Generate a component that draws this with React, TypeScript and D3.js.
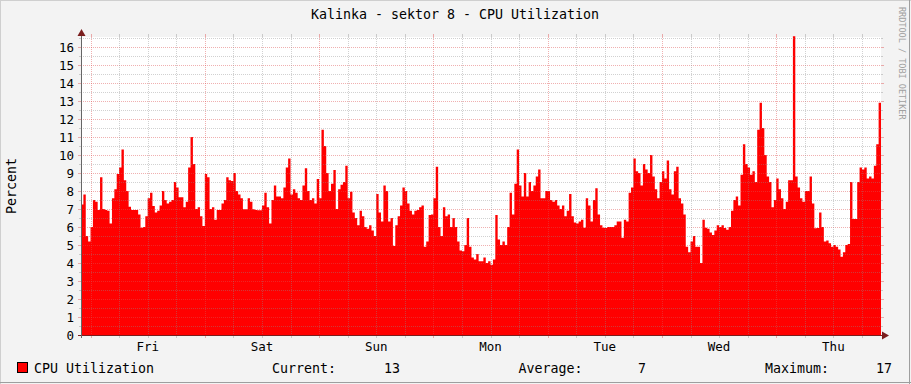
import React from "react";
import * as d3 from "d3";

const title = "Kalinka - sektor 8 - CPU Utilization";
const yAxisLabel = "Percent";
const watermark = "RRDTOOL / TOBI OETIKER";
const dayLabels = ["Fri", "Sat", "Sun", "Mon", "Tue", "Wed", "Thu"];
const yTickValues = [0, 1, 2, 3, 4, 5, 6, 7, 8, 9, 10, 11, 12, 13, 14, 15, 16];
const seriesName = "CPU Utilization";
const statLabels = ["Current:", "Average:", "Maximum:"];
const statValues = ["13", "7", "17"];

// 30-minute samples, starting Thu 22:00, spanning 7 days
const cpu = [
  7.25, 7.8, 5.5, 5.2, 6.0, 7.5, 7.4, 6.95, 8.76, 7.0,
  6.95, 6.9, 6.2, 7.6, 8.1, 8.95, 9.3, 10.3, 8.6, 8.0,
  7.13, 6.95, 6.95, 6.95, 6.7, 5.96, 6.0, 6.6, 7.6, 7.9,
  7.17, 6.8, 6.9, 7.2, 8.0, 7.5, 7.3, 7.4, 7.5, 8.5,
  8.2, 7.65, 7.65, 7.1, 7.4, 9.3, 11.0, 9.5, 7.0, 7.1,
  6.6, 6.05, 8.95, 8.76, 7.0, 7.1, 6.4, 6.95, 6.95, 7.3,
  7.5, 8.76, 8.6, 8.55, 9.0, 8.0, 7.8, 7.6, 6.98, 6.98,
  7.6, 7.4, 6.98, 6.95, 6.93, 6.93, 7.2, 7.9, 7.1, 6.2,
  7.5, 8.3, 7.7, 7.7, 7.6, 8.2, 9.3, 9.8, 7.8, 8.1,
  7.9, 7.6, 7.5, 8.3, 9.26, 8.0, 7.5, 7.6, 7.3, 8.67,
  7.6, 11.4, 10.5, 9.0, 8.0, 8.4, 9.17, 7.0, 8.1, 8.35,
  8.5, 9.4, 7.6, 7.96, 6.8, 6.5, 6.1, 6.9, 6.6, 6.0,
  5.9, 6.1, 5.8, 5.5, 7.83, 6.8, 6.3, 8.3, 8.0, 6.3,
  6.5, 4.94, 6.1, 6.6, 7.2, 8.2, 8.0, 7.3, 6.9, 6.7,
  6.9, 6.95, 7.1, 7.2, 4.9, 5.2, 6.67, 6.7, 7.6, 9.35,
  6.0, 5.5, 7.1, 6.6, 6.7, 6.0, 6.5, 6.0, 5.2, 4.7,
  4.65, 5.0, 6.5, 4.9, 4.3, 4.2, 4.5, 4.1, 4.1, 4.3,
  4.0, 4.1, 3.9, 4.2, 6.67, 5.3, 5.0, 5.2, 5.0, 6.0,
  7.9, 6.7, 8.4, 10.3, 8.3, 7.7, 9.0, 7.7, 8.5, 8.0,
  8.3, 8.8, 9.2, 7.6, 7.6, 8.0, 8.0, 7.5, 7.4, 7.5,
  7.2, 7.0, 7.2, 6.6, 6.9, 7.83, 6.6, 6.25, 6.2, 6.3,
  6.4, 5.96, 7.6, 7.2, 6.3, 7.5, 8.15, 6.7, 6.1, 5.96,
  5.95, 6.0, 6.0, 6.0, 6.1, 6.3, 6.3, 5.4, 6.4, 6.3,
  7.9, 8.2, 9.8, 9.1, 9.0, 8.3, 9.5, 9.2, 9.0, 10.0,
  8.8, 8.1, 7.6, 8.5, 9.1, 8.7, 9.7, 8.1, 7.8, 9.1,
  9.35, 7.6, 7.3, 6.7, 4.9, 4.6, 5.2, 5.5, 4.9, 4.9,
  4.0, 6.4, 5.96, 5.9, 5.7, 5.55, 5.8, 6.1, 6.0, 6.1,
  5.95, 5.85, 6.0, 6.9, 7.5, 7.7, 7.2, 8.9, 10.6, 9.5,
  9.3, 8.9, 9.1, 8.5, 11.4, 12.9, 11.5, 10.0, 8.8, 8.5,
  7.1, 7.5, 8.7, 8.1, 7.6, 7.0, 7.4, 8.6, 8.6, 16.6,
  8.8, 8.2, 7.6, 7.4, 8.0, 8.0, 8.8, 7.3, 5.93, 5.95,
  6.8, 6.0, 5.2, 5.25, 5.1, 4.9, 5.0, 4.9, 4.75, 4.35,
  4.6, 5.0, 5.05, 8.5, 6.44, 6.44, 8.5, 9.3, 9.2, 9.3,
  8.7, 8.8, 8.7, 9.4, 10.6, 12.9,
];

const W = 911;
const H = 384;
const PL = 81, PR = 881, PT = 37, PB = 335;
const HOURS = 168;
const STEP_H = 0.5;
const FIRST_MIDNIGHT_H = 2;
const MONO = "'DejaVu Sans Mono', monospace";

export default function App() {
  const x = d3.scaleLinear().domain([0, HOURS]).range([PL, PR]);
  const y = d3.scaleLinear().domain([0, (PB - PT) / 18]).range([PB, PT]);

  const pts: [number, number][] = cpu.map((v, i) => [i * STEP_H, v]);
  pts.push([HOURS, cpu[cpu.length - 1]]);

  const area = d3
    .area<[number, number]>()
    .x((d) => x(d[0]))
    .y0(y(0))
    .y1((d) => y(d[1]))
    .curve(d3.curveStepAfter);

  const px = (v: number) => Math.round(v) + 0.5;

  const hMinor = d3.range(0.5, (PB - PT) / 18, 1);
  const vHours = d3.range(FIRST_MIDNIGHT_H, HOURS, 6);
  const minorCol = "rgba(140,140,140,0.4)";
  const majorCol = "rgba(222,80,80,0.45)";

  return (
    <svg
      width={W}
      height={H}
      style={{ position: "absolute", left: 0, top: 0, display: "block" }}
      xmlns="http://www.w3.org/2000/svg"
    >
      <rect x={0} y={0} width={W} height={H} fill="#f3f3f3" />
      <line x1={0} y1={0.5} x2={W} y2={0.5} stroke="#cfcfcf" />
      <line x1={0.5} y1={0} x2={0.5} y2={H} stroke="#cfcfcf" />
      <line x1={0} y1={H - 1.5} x2={W} y2={H - 1.5} stroke="#9e9e9e" />
      <line x1={W - 1.5} y1={0} x2={W - 1.5} y2={H} stroke="#9e9e9e" />

      <text x={455} y={19} textAnchor="middle" fontFamily={MONO} fontSize={13.3} fill="#000">
        {title}
      </text>

      <text
        transform={`translate(899,7) rotate(90)`}
        fontFamily={MONO}
        fontSize={8.5}
        fill="#a0a0a0"
      >
        {watermark}
      </text>

      <rect x={PL} y={PT} width={PR - PL} height={PB - PT} fill="#fff" />

      <path d={area(pts) || ""} fill="#ff0000" />

      {/* horizontal minor grid */}
      {hMinor.map((v) => (
        <g key={"hm" + v}>
          <line x1={PL} x2={PR} y1={px(y(v))} y2={px(y(v))} stroke={minorCol} strokeDasharray="1,1" />
          <line x1={PL - 2} x2={PL} y1={px(y(v))} y2={px(y(v))} stroke={minorCol} />
          <line x1={PR} x2={PR + 2} y1={px(y(v))} y2={px(y(v))} stroke={minorCol} />
        </g>
      ))}
      {/* horizontal major grid */}
      {yTickValues.map((v) => (
        <g key={"hM" + v}>
          {v > 0 && (
            <line x1={PL} x2={PR} y1={px(y(v))} y2={px(y(v))} stroke={majorCol} strokeDasharray="1,1" />
          )}
          <line x1={PL - 3} x2={PL} y1={px(y(v))} y2={px(y(v))} stroke={majorCol} />
          <line x1={PR} x2={PR + 3} y1={px(y(v))} y2={px(y(v))} stroke={majorCol} />
          <text
            x={74}
            y={y(v) + 4.5}
            textAnchor="end"
            fontFamily={MONO}
            fontSize={12.5}
            fill="#000"
          >
            {v}
          </text>
        </g>
      ))}
      {/* vertical grid */}
      {vHours.map((h) => {
        const major = (h - FIRST_MIDNIGHT_H) % 24 === 0;
        const c = major ? majorCol : minorCol;
        const xx = px(x(h));
        return (
          <g key={"v" + h}>
            <line x1={xx} x2={xx} y1={PT} y2={PB} stroke={c} strokeDasharray="1,1" />
            <line x1={xx} x2={xx} y1={PT - 3} y2={PT} stroke={c} />
            <line x1={xx} x2={xx} y1={PB} y2={PB + 3} stroke={c} />
          </g>
        );
      })}
      {dayLabels.map((d, i) => (
        <text
          key={d}
          x={x(FIRST_MIDNIGHT_H + 12 + i * 24)}
          y={351}
          textAnchor="middle"
          fontFamily={MONO}
          fontSize={12.5}
          fill="#000"
        >
          {d}
        </text>
      ))}

      {/* axes */}
      <line x1={PL - 3} x2={PR + 2} y1={PB + 0.5} y2={PB + 0.5} stroke="#7a1e1e" />
      <path d={`M${PR + 1},${PB - 3.5} L${PR + 8},${PB + 0.5} L${PR + 1},${PB + 4.5} Z`} fill="#7a1e1e" />
      <line x1={PL + 0.5} x2={PL + 0.5} y1={PB + 3} y2={PT - 3} stroke="#666" />
      <path d={`M${PL - 3.5},${PT - 1} L${PL + 0.5},${PT - 8} L${PL + 4.5},${PT - 1} Z`} fill="#7a1e1e" />

      <text
        transform={`translate(16,186) rotate(-90)`}
        textAnchor="middle"
        fontFamily={MONO}
        fontSize={13.3}
        fill="#000"
      >
        {yAxisLabel}
      </text>

      {/* legend */}
      <rect x={17.5} y={362.5} width={10} height={10} fill="#ff0000" stroke="#000" />
      <text x={34} y={373} fontFamily={MONO} fontSize={13.3} fill="#000">
        {seriesName}
      </text>
      {statLabels.map((l, i) => (
        <g key={l}>
          <text x={272 + i * 246.5} y={373} fontFamily={MONO} fontSize={13.3} fill="#000">
            {l}
          </text>
          <text x={400 + i * 246} y={373} textAnchor="end" fontFamily={MONO} fontSize={13.3} fill="#000">
            {statValues[i]}
          </text>
        </g>
      ))}
    </svg>
  );
}
